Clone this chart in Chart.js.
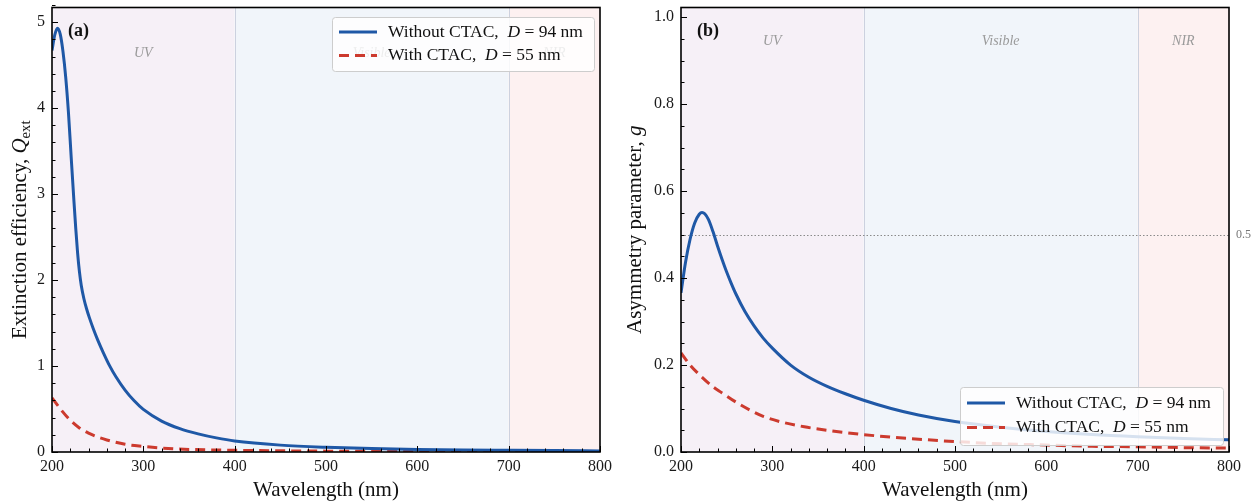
<!DOCTYPE html>
<html>
<head>
<meta charset="utf-8">
<script src="https://cdn.jsdelivr.net/npm/chart.js@4.4.0/dist/chart.umd.min.js"></script>
<style>
  html, body { margin: 0; padding: 0; background: #fff; }
  #wrapA { position: absolute; left: 0; top: 0; width: 620px; height: 504px; }
  #wrapB { position: absolute; left: 620px; top: 0; width: 635px; height: 504px; }
</style>
</head>
<body>
<div id="wrapA"><canvas id="chartA" width="620" height="504"></canvas></div>
<div id="wrapB"><canvas id="chartB" width="635" height="504"></canvas></div>
<script>
// ---------------------------------------------
// Data
// ---------------------------------------------
// (a) extinction efficiency
const wlExtNoCtac = [200, 203, 206, 209, 212, 215, 218, 221, 224, 226, 228, 230, 232, 235, 238, 241, 245, 250, 256, 263, 270, 280, 290, 300, 320, 340, 360, 380, 400, 450, 500, 550, 600, 650, 700, 750, 800];
const extNoCtac   = [4.67, 4.85, 4.93, 4.86, 4.66, 4.36, 3.95, 3.43, 2.92, 2.6, 2.32, 2.1, 1.94, 1.78, 1.66, 1.56, 1.44, 1.305, 1.16, 1.005, 0.875, 0.72, 0.595, 0.495, 0.36, 0.272, 0.211, 0.164, 0.128, 0.08, 0.055, 0.04, 0.03, 0.024, 0.02, 0.016, 0.013];
const wlExtCtac   = [200, 210, 220, 230, 240, 250, 260, 280, 300, 320, 350, 400, 500, 600, 700, 800];
const extCtac     = [0.63, 0.49, 0.37, 0.28, 0.22, 0.175, 0.14, 0.09, 0.065, 0.046, 0.03, 0.02, 0.01, 0.006, 0.004, 0.003];

// (b) asymmetry parameter
const wlGNoCtac = [200, 205, 210, 215, 220, 223, 226, 230, 235, 240, 245, 250, 255, 260, 270, 280, 290, 300, 320, 340, 360, 380, 400, 430, 460, 500, 550, 600, 650, 700, 750, 800];
const gNoCtac   = [0.366, 0.437, 0.49, 0.527, 0.547, 0.551, 0.548, 0.535, 0.507, 0.474, 0.443, 0.414, 0.388, 0.364, 0.323, 0.29, 0.262, 0.239, 0.2, 0.172, 0.151, 0.134, 0.119, 0.1, 0.085, 0.07, 0.057, 0.047, 0.04, 0.035, 0.031, 0.028];
const wlGCtac   = [200, 210, 222, 235, 245, 260, 275, 290, 310, 335, 360, 400, 450, 500, 550, 600, 650, 700, 750, 800];
const gCtac     = [0.228, 0.2, 0.174, 0.15, 0.136, 0.115, 0.097, 0.082, 0.069, 0.058, 0.05, 0.04, 0.031, 0.024, 0.019, 0.016, 0.013, 0.012, 0.01, 0.009];

// axes / annotations
const xTicks = [200, 300, 400, 500, 600, 700, 800];
const yTicksA = [0, 1, 2, 3, 4, 5];
const yTicksB = [0, 0.2, 0.4, 0.6, 0.8, 1.0];
const bandEdges = [200, 400, 700, 800];
const bandNames = ['UV', 'Visible', 'NIR'];
const refLineB = 0.5;
const seriesNames = ['Without CTAC', 'With CTAC'];
const diameters = [94, 55];

// ---------------------------------------------
// Styling helpers
// ---------------------------------------------
const SERIF = "'Liberation Serif', 'DejaVu Serif', serif";
const BLUE = '#1f58a6';
const RED = '#cc3a2e';
const BAND_COLORS = ['rgba(246,240,247,1)', 'rgba(241,245,250,1)', 'rgba(253,241,241,1)'];

function pairs(xs, ys) {
    return xs.map((x, i) => ({ x: x, y: ys[i] }));
}

function setFont(ctx, p, size) {
    const sz = p.sub ? size * 0.7 : size;
    ctx.font = (p.italic ? 'italic ' : '') + (p.bold ? 'bold ' : '') + sz + 'px ' + SERIF;
}

function richWidth(ctx, parts, size) {
    let w = 0;
    for (const p of parts) { setFont(ctx, p, size); w += ctx.measureText(p.t).width; }
    return w;
}

function drawRich(ctx, parts, x, y, size) {
    let cx = x;
    for (const p of parts) {
        setFont(ctx, p, size);
        ctx.fillText(p.t, cx, y + (p.sub ? size * 0.28 : 0));
        cx += ctx.measureText(p.t).width;
    }
}

function legendParts(i) {
    return [{ t: seriesNames[i] + ',  ' }, { t: 'D', italic: true }, { t: ' = ' + diameters[i] + ' nm' }];
}

// ---------------------------------------------
// Plugin: bands, frame, inward ticks, titles, legend
// ---------------------------------------------
const decoPlugin = {
    id: 'deco',
    beforeDatasetsDraw(chart) {
        const d = chart.options.plugins.deco;
        const { ctx, chartArea: a } = chart;
        const xs = chart.scales.x, ys = chart.scales.y;
        ctx.save();
        ctx.beginPath();
        ctx.rect(a.left, a.top, a.right - a.left, a.bottom - a.top);
        ctx.clip();
        for (let i = 0; i < bandNames.length; i++) {
            const x0 = xs.getPixelForValue(bandEdges[i]), x1 = xs.getPixelForValue(bandEdges[i + 1]);
            ctx.fillStyle = BAND_COLORS[i];
            ctx.fillRect(x0, a.top, x1 - x0, a.bottom - a.top);
        }
        ctx.strokeStyle = 'rgba(200,205,220,0.9)';
        ctx.lineWidth = 1;
        for (const e of bandEdges.slice(1, -1)) {
            const px = Math.round(xs.getPixelForValue(e)) + 0.5;
            ctx.beginPath(); ctx.moveTo(px, a.top); ctx.lineTo(px, a.bottom); ctx.stroke();
        }
        ctx.fillStyle = '#9a9a9a';
        ctx.font = 'italic 14px ' + SERIF;
        ctx.textAlign = 'center';
        ctx.textBaseline = 'middle';
        for (let i = 0; i < bandNames.length; i++) {
            const cx = (xs.getPixelForValue(bandEdges[i]) + xs.getPixelForValue(bandEdges[i + 1])) / 2;
            ctx.fillText(bandNames[i], cx, d.regionY);
        }
        if (d.refLine !== undefined) {
            const py = Math.round(ys.getPixelForValue(d.refLine)) + 0.5;
            ctx.strokeStyle = '#8a8a8a';
            ctx.setLineDash([1.5, 2]);
            ctx.beginPath(); ctx.moveTo(a.left, py); ctx.lineTo(a.right, py); ctx.stroke();
            ctx.setLineDash([]);
        }
        ctx.restore();
    },
    afterDatasetsDraw(chart) {
        const d = chart.options.plugins.deco;
        const { ctx, chartArea: a } = chart;
        const xs = chart.scales.x, ys = chart.scales.y;
        ctx.save();

        // reference label outside the frame
        if (d.refLine !== undefined) {
            ctx.fillStyle = '#777';
            ctx.font = '12px ' + SERIF;
            ctx.textAlign = 'left';
            ctx.textBaseline = 'middle';
            ctx.fillText(String(d.refLine), a.right + 7, ys.getPixelForValue(d.refLine));
        }

        // frame
        ctx.strokeStyle = '#000';
        ctx.lineWidth = 1.6;
        ctx.strokeRect(a.left, a.top, a.right - a.left, a.bottom - a.top);

        // inward ticks
        ctx.lineWidth = 1;
        const tick = (x0, y0, x1, y1) => { ctx.beginPath(); ctx.moveTo(x0, y0); ctx.lineTo(x1, y1); ctx.stroke(); };
        for (let v = xs.min; v <= xs.max + 1e-9; v += 20) {
            const px = Math.round(xs.getPixelForValue(v)) + 0.5;
            const len = Math.abs(v % 100) < 1e-6 ? 6 : 3.5;
            tick(px, a.bottom, px, a.bottom - len);
        }
        const nMinor = Math.round(d.yMax / d.yMinor);
        for (let k = 0; k <= nMinor; k++) {
            const v = k * d.yMinor;
            const py = Math.round(ys.getPixelForValue(v)) + 0.5;
            const major = Math.abs(v / d.yMajor - Math.round(v / d.yMajor)) < 1e-6;
            tick(a.left, py, a.left + (major ? 6 : 3.5), py);
        }

        // panel label
        ctx.fillStyle = '#111';
        ctx.font = 'bold 18px ' + SERIF;
        ctx.textAlign = 'left';
        ctx.textBaseline = 'middle';
        ctx.fillText(d.panel, a.left + d.panelDx, a.top + 24);

        // x title
        ctx.fillStyle = '#111';
        ctx.font = '21px ' + SERIF;
        ctx.textAlign = 'center';
        ctx.textBaseline = 'middle';
        ctx.fillText('Wavelength (nm)', (a.left + a.right) / 2, 490);

        // y title (rotated, may contain italic/subscript parts)
        ctx.save();
        ctx.translate(d.yTitleX, (a.top + a.bottom) / 2);
        ctx.rotate(-Math.PI / 2);
        ctx.textAlign = 'left';
        ctx.textBaseline = 'middle';
        const tw = richWidth(ctx, d.yTitle, 21);
        drawRich(ctx, d.yTitle, -tw / 2, 0, 21);
        ctx.restore();

        // legend
        const L = d.legend;
        ctx.fillStyle = 'rgba(255,255,255,0.82)';
        ctx.strokeStyle = 'rgba(205,205,205,1)';
        ctx.lineWidth = 1;
        ctx.beginPath();
        ctx.roundRect(L.x + 0.5, L.y + 0.5, L.w, L.h, 3);
        ctx.fill();
        ctx.stroke();
        chart.data.datasets.forEach((ds, i) => {
            const ry = L.y + L.row0 + i * L.rowGap;
            ctx.strokeStyle = ds.borderColor;
            ctx.lineWidth = ds.borderWidth;
            ctx.setLineDash(ds.borderDash || []);
            ctx.beginPath();
            ctx.moveTo(L.x + 7, ry);
            ctx.lineTo(L.x + 45, ry);
            ctx.stroke();
            ctx.setLineDash([]);
            ctx.fillStyle = '#111';
            ctx.textAlign = 'left';
            ctx.textBaseline = 'middle';
            drawRich(ctx, legendParts(i), L.x + 56, ry, 17.5);
        });
        ctx.restore();
    }
};

// ---------------------------------------------
// Chart builders
// ---------------------------------------------
function zeroPad(s) {
    s.paddingTop = 0; s.paddingBottom = 0; s.paddingLeft = 0; s.paddingRight = 0;
}

function makeChart(canvasId, seriesA, seriesB, cfg) {
    return new Chart(document.getElementById(canvasId), {
        type: 'line',
        data: {
            datasets: [
                { label: seriesNames[0], data: seriesA, borderColor: BLUE, borderWidth: 3, pointRadius: 0, cubicInterpolationMode: 'monotone', fill: false },
                { label: seriesNames[1], data: seriesB, borderColor: RED, borderWidth: 3, borderDash: [10, 6], pointRadius: 0, cubicInterpolationMode: 'monotone', fill: false }
            ]
        },
        options: {
            responsive: false,
            animation: false,
            layout: { padding: { top: 7.5, right: cfg.padRight, left: 0, bottom: 0 } },
            scales: {
                x: {
                    type: 'linear', min: 200, max: 800,
                    afterBuildTicks: s => { s.ticks = xTicks.map(v => ({ value: v })); },
                    afterFit: s => { s.height = 52; zeroPad(s); },
                    grid: { display: false, drawTicks: false },
                    border: { display: false },
                    ticks: { padding: 5, color: '#1a1a1a', font: { family: SERIF, size: 16 }, maxRotation: 0, autoSkip: false }
                },
                y: {
                    min: 0, max: cfg.yMax,
                    afterBuildTicks: s => { s.ticks = cfg.yTicks.map(v => ({ value: v })); },
                    afterFit: s => { s.width = cfg.yWidth; zeroPad(s); },
                    grid: { display: false, drawTicks: false },
                    border: { display: false },
                    ticks: { padding: 7, color: '#1a1a1a', font: { family: SERIF, size: 16 }, callback: cfg.yFmt }
                }
            },
            plugins: {
                legend: { display: false },
                tooltip: { enabled: false },
                deco: cfg.deco
            }
        },
        plugins: [decoPlugin]
    });
}

makeChart('chartA', pairs(wlExtNoCtac, extNoCtac), pairs(wlExtCtac, extCtac), {
    yMax: 5.17, yTicks: yTicksA, yWidth: 52, padRight: 20,
    yFmt: v => String(v),
    deco: {
        panel: '(a)', panelDx: 16, regionY: 53, yMax: 5.17, yMajor: 1, yMinor: 0.2,
        yTitleX: 20,
        yTitle: [{ t: 'Extinction efficiency, ' }, { t: 'Q', italic: true }, { t: 'ext', sub: true }],
        legend: { x: 332, y: 17, w: 262, h: 54, row0: 15, rowGap: 23.5 }
    }
});

makeChart('chartB', pairs(wlGNoCtac, gNoCtac), pairs(wlGCtac, gCtac), {
    yMax: 1.0225, yTicks: yTicksB, yWidth: 61, padRight: 26,
    yFmt: v => v.toFixed(1),
    deco: {
        panel: '(b)', panelDx: 16, regionY: 41, yMax: 1.0225, yMajor: 0.2, yMinor: 0.05,
        refLine: refLineB,
        yTitleX: 15,
        yTitle: [{ t: 'Asymmetry parameter, ' }, { t: 'g', italic: true }],
        legend: { x: 340, y: 387, w: 263, h: 58, row0: 16, rowGap: 24.5 }
    }
});
</script>
</body>
</html>
